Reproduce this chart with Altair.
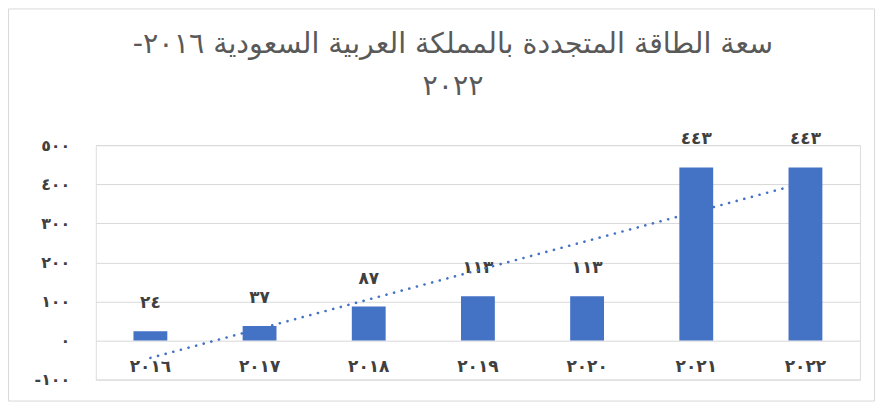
import altair as alt
import pandas as pd

# ---- data ----
years = ["٢٠١٦", "٢٠١٧", "٢٠١٨", "٢٠١٩", "٢٠٢٠", "٢٠٢١", "٢٠٢٢"]
year_index = [1, 2, 3, 4, 5, 6, 7]
capacity = [24, 37, 87, 113, 113, 443, 443]
y_ticks = [-100, 0, 100, 200, 300, 400, 500]
title_lines = ["سعة الطاقة المتجددة بالمملكة العربية السعودية ٢٠١٦-\u200f", "٢٠٢٢"]

AR = str.maketrans("0123456789", "٠١٢٣٤٥٦٧٨٩")
def ar(n):
    return str(n).translate(AR)

y_tick_labels = [ar(v) for v in y_ticks]
bar_labels = [ar(v) for v in capacity]

df = pd.DataFrame({"year": years, "idx": year_index, "cap": capacity, "lbl": bar_labels})

W, H = 766, 235
PAD = {"left": 88, "top": 137, "right": 16, "bottom": 23}
BLUE = "#4472C4"
TXT = "#404040"
FONT = "DejaVu Sans"

label_expr = "[" + ",".join("'%s'" % s for s in y_tick_labels) + "][(datum.value + 100) / 100]"

y_enc = alt.Y(
    "cap:Q",
    scale=alt.Scale(domain=[-100, 500], nice=False),
    axis=alt.Axis(
        values=y_ticks, tickCount=20, labelExpr=label_expr, title=None, domain=False, ticks=False,
        grid=True, gridColor="#d9d9d9", gridWidth=1, labelPadding=26, labelOverlap=False,
        labelFont=FONT, labelFontSize=16, labelFontWeight="bold", labelColor=TXT,
    ),
)

x_enc = alt.X(
    "year:N", sort=years,
    scale=alt.Scale(paddingInner=0.69, paddingOuter=0.345),
    axis=alt.Axis(
        title=None, domain=False, ticks=False, labelAngle=0, offset=-23, labelPadding=2,
        labelFont=FONT, labelFontSize=17, labelFontWeight="bold", labelColor=TXT,
    ),
)

base = alt.Chart(df)

bars = base.mark_bar(color=BLUE).encode(x=x_enc, y=y_enc)

labels = base.mark_text(
    dy=-28, font=FONT, fontSize=17, fontWeight="bold", color=TXT, baseline="middle"
).encode(x=alt.X("year:N", sort=years), y=alt.Y("cap:Q"), text="lbl:N")

bar_layer = alt.layer(bars, labels)

trend = base.transform_regression("idx", "cap").mark_line(
    color=BLUE, strokeWidth=2.6, strokeDash=[0.1, 7.8], strokeCap="round"
).encode(
    x=alt.X("idx:Q", scale=alt.Scale(domain=[0.5, 7.5], nice=False, zero=False), axis=None),
    y=alt.Y("cap:Q"),
)

frame = alt.Chart(alt.Data(values=[{"a": 1}])).mark_rect(
    fill=None, stroke="#d9d9d9", strokeWidth=1
).encode(
    x=alt.value(-PAD["left"] + 0.5), x2=alt.value(W + PAD["right"] - 1.5),
    y=alt.value(-PAD["top"] + 0.5), y2=alt.value(H + PAD["bottom"] - 1.5),
)

chart = alt.layer(frame, bar_layer, trend).resolve_scale(x="independent").properties(
    width=W, height=H,
    title=alt.TitleParams(
        title_lines, anchor="middle", frame="group", font=FONT, fontSize=28.5, dx=-25, dy=121,
        fontWeight="normal", color="#595959", lineHeight=42, offset=0, baseline="bottom",
    ),
    autosize=alt.AutoSizeParams(type="none"),
    padding=PAD,
).configure_view(stroke=None).configure(background="white")

chart.save("out.html", embed_options={"renderer": "svg", "actions": False})
